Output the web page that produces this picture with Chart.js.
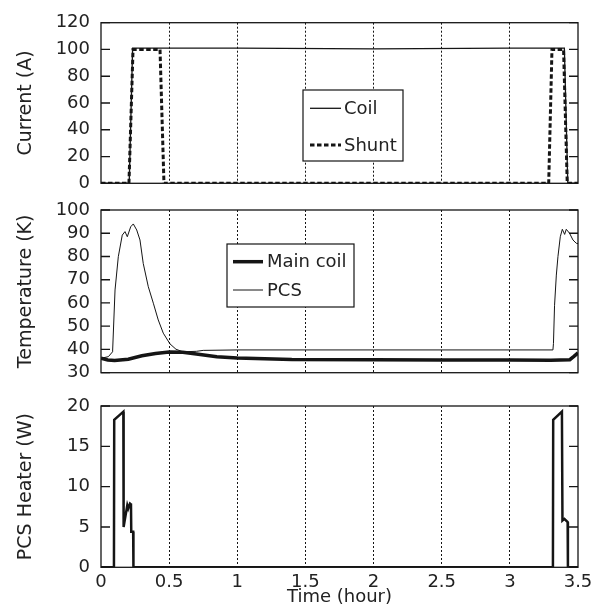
<!DOCTYPE html>
<html>
<head>
<meta charset="utf-8">
<script src="https://cdn.jsdelivr.net/npm/chart.js@4.4.0/dist/chart.umd.min.js"></script>
<style>
  body { margin: 0; background: #fff; }
  #wrap { position: relative; width: 603px; height: 610px; overflow: hidden; }
  canvas { position: absolute; left: 0; }
</style>
</head>
<body>
<div id="wrap">
  <canvas id="current" style="top:0px" width="603" height="206"></canvas>
  <canvas id="temp" style="top:180px" width="603" height="216"></canvas>
  <canvas id="heater" style="top:380px" width="603" height="230"></canvas>
</div>
<script>
// tick labels
const timeTicks = [0, 0.5, 1, 1.5, 2, 2.5, 3, 3.5];
const currentTicks = [0, 20, 40, 60, 80, 100, 120];
const tempTicks = [30, 40, 50, 60, 70, 80, 90, 100];
const heaterTicks = [0, 5, 10, 15, 20];

// Current (A)
const coilTime = [0, 0.207, 0.232, 1.0, 2.0, 3.0, 3.40, 3.425, 3.5];
const coilAmps = [0, 0, 101, 101, 100.5, 101, 101, 0, 0];
const shuntTime = [0, 0.205, 0.235, 0.433, 0.462, 3.285, 3.309, 3.394, 3.421, 3.5];
const shuntAmps = [0, 0, 100, 100, 0, 0, 100, 100, 0, 0];

// Temperature (K)
const mainTime = [0, 0.05, 0.1, 0.2, 0.3, 0.4, 0.5, 0.6, 0.7, 0.85, 1.0, 1.4, 2.0, 2.5, 3.0, 3.3, 3.44, 3.47, 3.5];
const mainTemp = [36.2, 35.5, 35.2, 35.8, 37.3, 38.3, 38.9, 38.8, 38.0, 36.9, 36.3, 35.7, 35.6, 35.5, 35.5, 35.4, 35.6, 37.0, 38.5];
const pcsTime = [0, 0.054, 0.085, 0.103, 0.127, 0.156, 0.176, 0.193, 0.218, 0.237, 0.262, 0.286, 0.31, 0.347,
  0.384, 0.42, 0.457, 0.506, 0.55, 0.6, 0.7, 0.75, 1.0, 2.0, 3.0, 3.316, 3.32, 3.328, 3.341, 3.353, 3.37,
  3.385, 3.402, 3.414, 3.438, 3.463, 3.487, 3.5];
const pcsTemp = [36.2, 36.9, 39, 65.6, 79.9, 89.2, 90.7, 88.5, 92.8, 94, 91.4, 87.1, 77, 67,
  59.9, 52.7, 47, 42.4, 40.1, 39.0, 39.2, 39.6, 39.8, 39.8, 39.8, 39.8, 42.6, 59, 72, 80, 88.5,
  91.7, 89.5, 91.7, 90, 87.1, 85.7, 85.5];

// PCS Heater (W)
const heaterTime = [0, 0.095, 0.097, 0.164, 0.166, 0.172, 0.193, 0.2, 0.213, 0.22, 0.222, 0.236, 0.238, 0.5, 1, 2, 3,
  3.316, 3.318, 3.382, 3.386, 3.40, 3.424, 3.426, 3.5];
const heaterWatts = [0, 0, 18.3, 19.3, 5.0, 5.6, 7.7, 7.3, 7.9, 7.8, 4.4, 4.4, 0, 0, 0, 0, 0,
  0, 18.3, 19.3, 5.8, 6.0, 5.6, 0, 0];

const INK = '#151515';
const FONT = 'DejaVu Sans';

const pts = (xs, ys) => xs.map((x, i) => ({ x: x, y: ys[i] }));

// box, inward ticks and the legend
const framePlugin = {
  id: 'frame',
  afterDraw(chart, args, opts) {
    const { ctx, chartArea: a, scales } = chart;
    ctx.save();
    ctx.strokeStyle = INK;
    ctx.lineWidth = 1.3;
    ctx.setLineDash([]);
    ctx.strokeRect(a.left, a.top, a.right - a.left, a.bottom - a.top);
    const y = scales.y;
    y.ticks.forEach(t => {
      const py = y.getPixelForValue(t.value);
      ctx.beginPath();
      ctx.moveTo(a.left, py); ctx.lineTo(a.left + 9, py);
      ctx.moveTo(a.right, py); ctx.lineTo(a.right - 9, py);
      ctx.stroke();
    });

    if (opts.box) {
      const [bx, by, bw, bh] = opts.box;
      ctx.fillStyle = '#fff';
      ctx.fillRect(bx, by, bw, bh);
      ctx.lineWidth = 1.2;
      ctx.strokeRect(bx, by, bw, bh);
      ctx.font = '18px "' + FONT + '"';
      ctx.textBaseline = 'middle';
      ctx.fillStyle = '#222';
      chart.data.datasets.forEach((ds, i) => {
        const ry = opts.rows[i];
        ctx.beginPath();
        ctx.lineWidth = ds.borderWidth;
        ctx.setLineDash(ds.borderDash || []);
        ctx.moveTo(opts.lineX[0], ry);
        ctx.lineTo(opts.lineX[1], ry);
        ctx.stroke();
        ctx.setLineDash([]);
        ctx.fillText(ds.label, opts.textX, ry + 1);
      });
    }
    ctx.restore();
  }
};

function makePanel(id, cfg) {
  const canvas = document.getElementById(id);
  const H = canvas.height;
  return new Chart(canvas, {
    type: 'line',
    data: { datasets: cfg.datasets },
    options: {
      responsive: false,
      animation: false,
      devicePixelRatio: 1,
      layout: { padding: { left: 0, right: 25, top: cfg.top, bottom: 0 } },
      plugins: {
        legend: { display: false },
        tooltip: { enabled: false },
        frame: cfg.legend || {}
      },
      elements: { point: { radius: 0 }, line: { tension: 0 } },
      scales: {
        x: {
          type: 'linear',
          min: 0, max: 3.5,
          afterBuildTicks: s => { s.ticks = timeTicks.map(v => ({ value: v })); },
          afterFit: s => { s.height = H - cfg.bottom; },
          grid: {
            drawTicks: false,
            lineWidth: 1,
            color: c => (c.tick && c.tick.value > 0 && c.tick.value < 3.5) ? INK : 'rgba(0,0,0,0)'
          },
          border: { display: false, dash: [2, 2] },
          ticks: {
            display: !!cfg.xLabels,
            padding: 4,
            color: '#222',
            font: { family: FONT, size: 18 },
            maxRotation: 0,
            autoSkip: false,
            callback: v => v
          },
          title: {
            display: !!cfg.xLabels,
            text: 'Time (hour)',
            color: '#222',
            font: { family: FONT, size: 18, lineHeight: 1.2 },
            padding: { top: 0, bottom: 2 }
          }
        },
        y: {
          min: cfg.yTicks[0],
          max: cfg.yTicks[cfg.yTicks.length - 1],
          afterBuildTicks: s => { s.ticks = cfg.yTicks.map(v => ({ value: v })); },
          afterFit: s => { s.width = 101; },
          grid: { display: false, drawTicks: false },
          border: { display: false },
          ticks: {
            padding: 11,
            color: '#222',
            font: { family: FONT, size: 18 },
            autoSkip: false,
            callback: v => v
          },
          title: {
            display: true,
            text: cfg.yTitle,
            color: '#222',
            font: { family: FONT, size: 19, lineHeight: 1.2 },
            padding: { top: 15, bottom: 0 }
          }
        }
      }
    },
    plugins: [framePlugin]
  });
}

// canvas tops: 0, 180, 380 (page px); chart area edges given in canvas px
makePanel('current', {
  top: 22.7, bottom: 183.3, yTicks: currentTicks, yTitle: 'Current (A)',
  datasets: [
    { label: 'Coil', data: pts(coilTime, coilAmps), borderColor: INK, borderWidth: 1.3 },
    { label: 'Shunt', data: pts(shuntTime, shuntAmps), borderColor: INK, borderWidth: 3, borderDash: [4.5, 2.5] }
  ],
  legend: { box: [303, 90, 100, 71], rows: [108.3, 145], lineX: [310, 341], textX: 344 }
});

makePanel('temp', {
  top: 30, bottom: 192.7, yTicks: tempTicks, yTitle: 'Temperature (K)',
  datasets: [
    { label: 'Main coil', data: pts(mainTime, mainTemp), borderColor: INK, borderWidth: 3.5 },
    { label: 'PCS', data: pts(pcsTime, pcsTemp), borderColor: INK, borderWidth: 1 }
  ],
  legend: { box: [227, 64, 127, 63], rows: [81.7, 110], lineX: [233, 263], textX: 267 }
});

makePanel('heater', {
  top: 26, bottom: 187.3, yTicks: heaterTicks, yTitle: 'PCS Heater (W)', xLabels: true,
  datasets: [
    { label: 'PCS Heater', data: pts(heaterTime, heaterWatts), borderColor: INK, borderWidth: 2.5 }
  ]
});
</script>
</body>
</html>
